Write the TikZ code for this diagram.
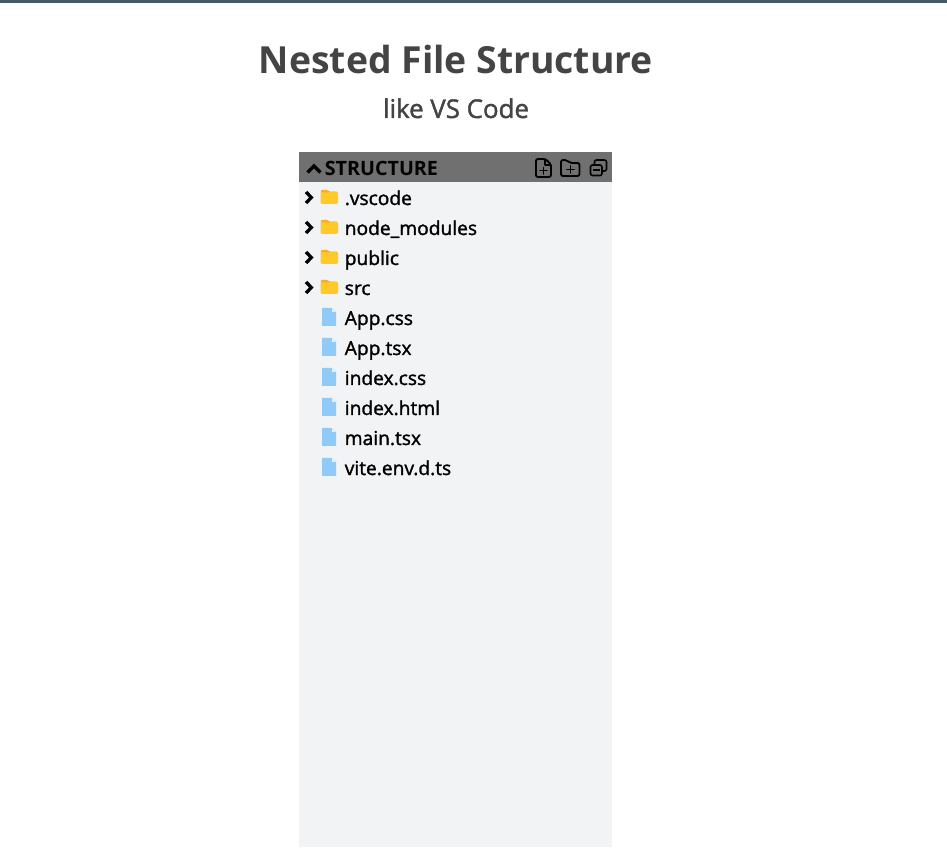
\documentclass[tikz,border=0pt]{standalone}
\usepackage{fontspec}
\setmainfont{Open Sans}
\newfontfamily\semi{Open Sans}[FakeBold=1.5]
\definecolor{topbar}{HTML}{455A64}
\definecolor{ink}{HTML}{444444}
\definecolor{panel}{HTML}{F2F3F5}
\definecolor{headbar}{HTML}{707070}
\definecolor{foldery}{HTML}{FFCA28}
\definecolor{folderb}{HTML}{FFA726}
\definecolor{filebl}{HTML}{90CAF9}
\definecolor{filefold}{HTML}{E3F2FD}
\newcommand{\chev}[1]{\draw[chevline] ($(#1)+(-3.5,-5.5)$) -- ($(#1)+(1.8,0)$) -- ($(#1)+(-3.5,5.5)$);}
\usetikzlibrary{calc}
\tikzset{
  x=0.75pt,y=-0.75pt,
  chevline/.style={black,line width=2.5pt,line join=miter},
  itemlabel/.style={anchor=base west,inner sep=0pt,font=\semi\fontsize{14.4pt}{16pt}\selectfont,text=black},
  iconline/.style={black,line width=1.4pt,line join=round,line cap=round},
  iconthin/.style={black,line width=1.15pt,line join=round,line cap=round},
}
\newcommand{\folderitem}[3]{%
  \chev{309.5,#2+.5}
  \fill[foldery,rounded corners=1pt] (320.5,#2-5.5) rectangle (338,#2+7);
  \fill[folderb,rounded corners=1pt] (320.5,#2-7) -- (328,#2-7) -- (330.5,#2-4.5) -- (320.5,#2-4.5) -- cycle;
  \node[itemlabel] (#1) at (344.5,#2+8) {#3};
}
\newcommand{\fileitem}[3]{%
  \fill[filebl] (322,#2-9) -- (332,#2-9) -- (336,#2-5) -- (336,#2+9) -- (322,#2+9) -- cycle;
  \fill[filefold] (332,#2-9) -- (336,#2-5) -- (332,#2-5) -- cycle;
  \node[itemlabel] (#1) at (344.5,#2+8) {#3};
}
\begin{document}
\begin{tikzpicture}
\useasboundingbox (0,0) rectangle (947,866);
\fill[white] (0,0) rectangle (947,866);
\fill[topbar] (0,0) rectangle (947,3);
\node[anchor=base,inner sep=0pt,text=ink,font=\bfseries\fontsize{28pt}{32pt}\selectfont] (title) at (456,74) {Nested File Structure};
\node[anchor=base,inner sep=0pt,text=ink,font=\semi\fontsize{19.4pt}{22pt}\selectfont] (subtitle) at (456,118) {like VS Code};
\fill[panel] (299,182) rectangle (612,847);
\fill[headbar] (299,152) rectangle (612,182);
\draw[chevline] (307.5,172.5) -- (314,166) -- (320.5,172.5);
\node[anchor=base west,inner sep=0pt,text=black,font=\bfseries\fontsize{14.8pt}{16pt}\selectfont] (head) at (324.5,175.5) {STRUCTURE};
% new file icon
\draw[iconline,rounded corners=1.5pt] (536,159) -- (545.5,159) -- (551,164.5) -- (551,177) -- (536,177) -- cycle;
\draw[iconline] (545,159) -- (545,165) -- (551,165);
\draw[iconthin] (543.5,167.5) -- (543.5,174) (540,170.7) -- (547,170.7);
% new folder icon
\draw[iconline,rounded corners=1.5pt] (561,160) -- (567,160) -- (569.5,163) -- (579.5,163) -- (579.5,176) -- (561,176) -- cycle;
\draw[iconthin] (570.5,166) -- (570.5,173) (567,169.5) -- (574,169.5);
% collapse icon
\draw[iconthin,rounded corners=1.5pt] (590.5,165) rectangle (602,175.5);
\draw[iconthin,rounded corners=1.5pt] (594.5,165) -- (594.5,160) -- (606.5,160) -- (606.5,171) -- (602,171);
\draw[iconthin,line cap=butt] (593,170.2) -- (599.5,170.2);
\folderitem{vscode}{197}{.vscode}
\folderitem{nodemodules}{227}{node\_modules}
\folderitem{public}{257}{public}
\folderitem{src}{287}{src}
\fileitem{appcss}{317}{App.css}
\fileitem{apptsx}{347}{App.tsx}
\fileitem{indexcss}{377}{index.css}
\fileitem{indexhtml}{407}{index.html}
\fileitem{maintsx}{437}{main.tsx}
\fileitem{viteenv}{467}{vite.env.d.ts}
\end{tikzpicture}
\end{document}
